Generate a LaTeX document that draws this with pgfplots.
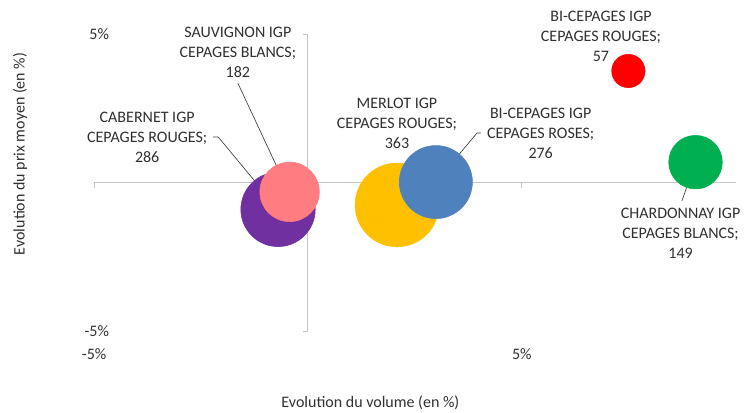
\documentclass[border=0pt]{standalone}
\usepackage{pgfplots}
\pgfplotsset{compat=1.18}
\usepackage{fontspec}
\setmainfont{Carlito}
\definecolor{cab}{HTML}{7030A0}
\definecolor{sau}{HTML}{FF7C80}
\definecolor{mer}{HTML}{FFC000}
\definecolor{bro}{HTML}{4F81BD}
\definecolor{bru}{HTML}{FF0000}
\definecolor{cha}{HTML}{00B050}
\definecolor{txt}{HTML}{303030}
\definecolor{axl}{HTML}{C4C4C4}
\begin{document}
\begin{tikzpicture}[font=\fontsize{12}{15}\selectfont]
\begin{axis}[
 anchor=origin, at={(0,0)},
 x=32.08pt, y=22.28pt,
 xmin=-5, xmax=10, ymin=-5, ymax=5,
 axis lines=middle,
 axis line style={-, draw=axl, line width=0.75pt},
 xtick={-5,5}, ytick={-5,5},
 xticklabels={-5\%,5\%}, yticklabels={-5\%,5\%},
 tick align=outside, major tick length=3.75pt,
 tick style={draw=axl, line width=0.75pt},
 /pgf/number format/assume math mode=true,
 ticklabel style={font=\fontsize{12}{14}\selectfont, text=txt},
 xticklabel style={yshift=-117pt},
 yticklabel style={xshift=-142pt},
 clip=false,
]
% bubbles: (volume %, price %), radius from value
\addplot[only marks, mark=*, mark size=27.9pt, color=cab] coordinates {(-0.70,-0.90)};
\addplot[only marks, mark=*, mark size=22.3pt, color=sau] coordinates {(-0.43,-0.31)};
\addplot[only marks, mark=*, mark size=31.4pt, color=mer] coordinates {(2.08,-0.75)};
\addplot[only marks, mark=*, mark size=27.4pt, color=bro] coordinates {(2.99,0.02)};
\addplot[only marks, mark=*, mark size=12.5pt, color=bru] coordinates {(7.49,3.76)};
\addplot[only marks, mark=*, mark size=20.1pt, color=cha] coordinates {(9.06,0.69)};
% leader lines
\draw[black!75, line width=0.5pt] (axis cs:-1.64,3.35) -- (axis cs:-0.44,-0.35);
\draw[black!75, line width=0.5pt] (axis cs:-2.22,1.54) -- (axis cs:-2.10,1.54) -- (axis cs:-0.70,-0.89);
\draw[black!75, line width=0.5pt] (axis cs:4.05,1.67) -- (axis cs:3.95,1.67) -- (axis cs:2.99,0.02);
\draw[black!75, line width=0.5pt] (axis cs:9.06,0.69) -- (axis cs:8.74,-0.62);
% labels
\node[align=center, text=txt] at (axis cs:-1.64,4.40) {SAUVIGNON IGP\\CEPAGES BLANCS;\\182};
\node[align=center, text=txt] at (axis cs:-3.76,1.54) {CABERNET IGP\\CEPAGES ROUGES;\\286};
\node[align=center, text=txt] at (axis cs:2.08,2.01) {MERLOT IGP\\CEPAGES ROUGES;\\363};
\node[align=center, text=txt] at (axis cs:5.44,1.67) {BI-CEPAGES IGP\\CEPAGES ROSES;\\276};
\node[align=center, text=txt] at (axis cs:6.85,4.91) {BI-CEPAGES IGP\\CEPAGES ROUGES;\\57};
\node[align=center, text=txt] at (axis cs:8.71,-1.69) {CHARDONNAY IGP\\CEPAGES BLANCS;\\149};
% axis titles
\node[rotate=90, text=txt] at (axis cs:-6.73,0.97) {Evolution du prix moyen (en \%)};
\node[text=txt] at (axis cs:1.46,-7.41) {Evolution du volume (en \%)};
\end{axis}
\pgfresetboundingbox
\path[use as bounding box] (-231pt,-172pt) rectangle (327pt,137pt);
\end{tikzpicture}
\end{document}
